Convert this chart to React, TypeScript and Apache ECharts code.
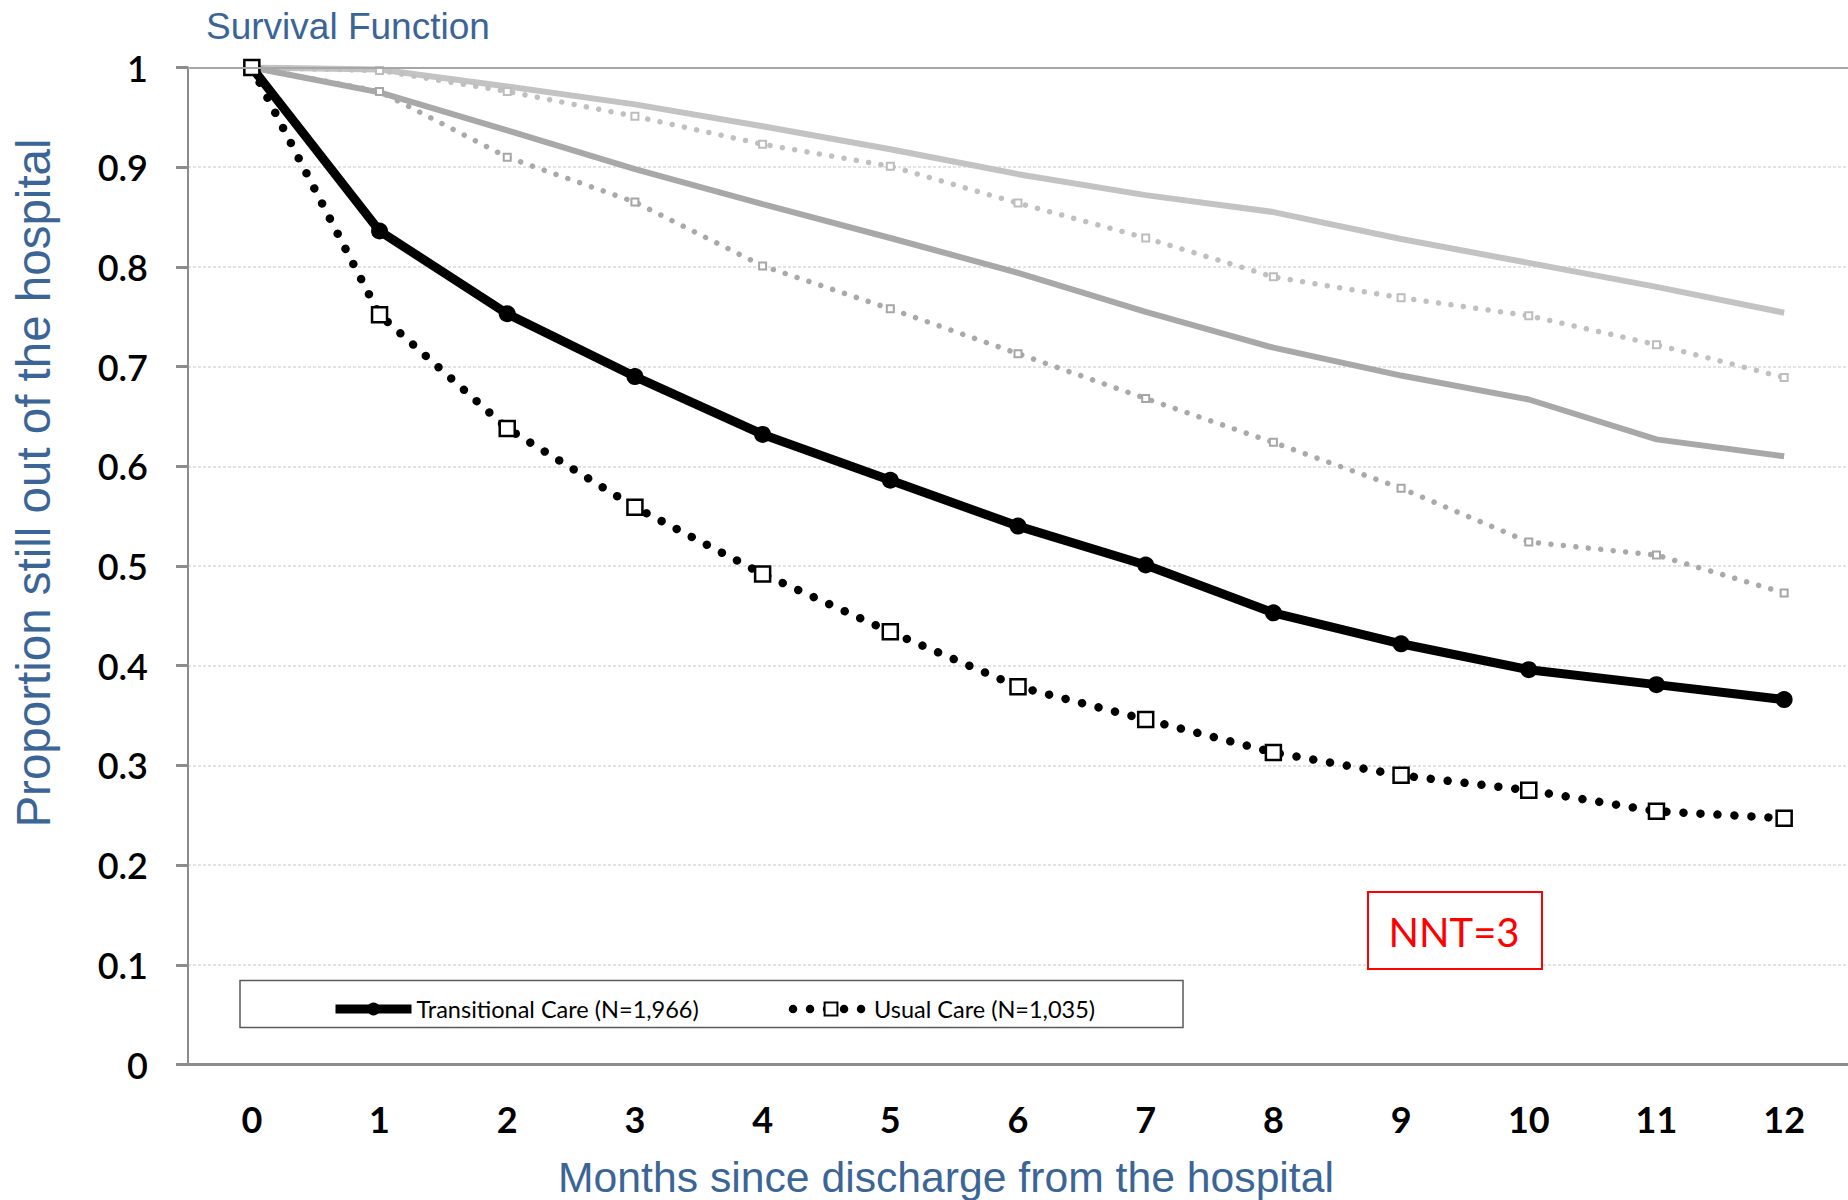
import React, { useEffect, useRef } from "react";
import * as echarts from "echarts";

const months = ["0", "1", "2", "3", "4", "5", "6", "7", "8", "9", "10", "11", "12"];
const transitionalCare = [1.0, 0.836, 0.753, 0.69, 0.632, 0.586, 0.54, 0.501, 0.453, 0.422, 0.396, 0.381, 0.366];
const usualCare = [1.0, 0.752, 0.638, 0.559, 0.492, 0.434, 0.379, 0.346, 0.313, 0.29, 0.275, 0.254, 0.247];
const greyLightSolid = [1.0, 0.998, 0.981, 0.963, 0.941, 0.918, 0.893, 0.872, 0.855, 0.828, 0.804, 0.78, 0.754];
const greyLightDotted = [1.0, 0.997, 0.976, 0.951, 0.923, 0.901, 0.864, 0.829, 0.79, 0.769, 0.751, 0.722, 0.689];
const greyMidSolid = [1.0, 0.975, 0.937, 0.898, 0.863, 0.829, 0.794, 0.755, 0.719, 0.691, 0.667, 0.627, 0.61];
const greyMidDotted = [1.0, 0.976, 0.91, 0.865, 0.801, 0.758, 0.713, 0.668, 0.624, 0.578, 0.524, 0.511, 0.473];

const titleText = "Survival Function";
const xAxisTitle = "Months since discharge from the hospital";
const yAxisTitle = "Proportion still out of the hospital";
const legendNames = ["Transitional Care (N=1,966)", "Usual Care (N=1,035)"];
const nntText = "NNT=3";

const BLUE = "#3b6597";
const AXIS = "#8c8c8c";

export default function App() {
  const ref = useRef<HTMLDivElement>(null);
  useEffect(() => {
    if (!ref.current) return;
    const chart = echarts.init(ref.current, null, { renderer: "svg" });
    const option: any = {
      animation: false,
      backgroundColor: "#ffffff",
      title: {
        text: titleText,
        left: 201,
        top: 3,
        textStyle: { color: BLUE, fontFamily: "Liberation Sans", fontSize: 37, fontWeight: "normal" },
      },
      grid: { left: 188, top: 67.5, width: 1665, height: 997 },
      legend: {
        data: legendNames,
        left: 326,
        top: 991,
        itemWidth: 76,
        itemHeight: 16,
        itemGap: 90,
        lineStyle: { width: "inherit" },
        textStyle: { fontFamily: "Lato", fontSize: 23.5, color: "#000", lineHeight: 26 },
      },
      xAxis: {
        type: "category",
        data: months,
        boundaryGap: true,
        axisLine: { lineStyle: { color: AXIS, width: 3 } },
        axisTick: { interval: 0, length: 13, lineStyle: { color: AXIS, width: 1.5 } },
        axisLabel: { interval: 0, margin: 36, fontFamily: "Lato", fontSize: 36, fontWeight: "bold", color: "#000" },
        splitLine: { show: false },
      },
      yAxis: {
        type: "value",
        min: 0,
        max: 1,
        interval: 0.1,
        axisLine: { show: true, lineStyle: { color: AXIS, width: 2 } },
        axisTick: { show: true, length: 12, lineStyle: { color: AXIS, width: 3 } },
        axisLabel: { margin: 40, fontFamily: "Lato", fontSize: 36, fontWeight: 600, color: "#000" },
        splitLine: { show: true, lineStyle: { color: "#d9d9d9", width: 1.5, type: [3, 2] } },
      },
      graphic: [
        {
          type: "text",
          x: 33,
          y: 483,
          rotation: Math.PI / 2,
          style: {
            text: yAxisTitle,
            fill: BLUE,
            fontFamily: "Liberation Sans",
            fontSize: 47.5,
            textAlign: "center",
            textVerticalAlign: "middle",
          },
        },
        {
          type: "text",
          x: 946,
          y: 1177,
          style: {
            text: xAxisTitle,
            fill: BLUE,
            fontFamily: "Liberation Sans",
            fontSize: 42.7,
            textAlign: "center",
            textVerticalAlign: "middle",
          },
        },
        {
          type: "rect",
          z: 1,
          shape: { x: 240, y: 980.5, width: 943, height: 47 },
          style: { fill: "#ffffff", stroke: "#595959", lineWidth: 1.5 },
        },
        {
          type: "rect",
          z: 1,
          shape: { x: 1368, y: 892, width: 174, height: 77 },
          style: { fill: "#ffffff", stroke: "#ff0000", lineWidth: 2 },
        },
        {
          type: "text",
          z: 2,
          x: 1454,
          y: 932,
          style: {
            text: nntText,
            fill: "#ff0000",
            fontFamily: "Lato",
            fontSize: 40,
            textAlign: "center",
            textVerticalAlign: "middle",
          },
        },
      ],
      series: [
        {
          name: "grey-light-solid",
          type: "line",
          data: greyLightSolid,
          symbol: "none",
          lineStyle: { color: "#c3c3c3", width: 6 },
          z: 2,
          markLine: {
            silent: true,
            symbol: "none",
            label: { show: false },
            lineStyle: { color: "#a6a6a6", width: 2, type: "solid" },
            data: [{ yAxis: 1 }],
          },
        },
        {
          name: "grey-light-dotted",
          type: "line",
          data: greyLightDotted,
          symbol: "rect",
          symbolSize: 7,
          itemStyle: { color: "#ffffff", borderColor: "#bdbdbd", borderWidth: 2 },
          lineStyle: { color: "#c0c0c0", width: 5.5, type: [0.01, 12.5], cap: "round" },
          z: 2,
        },
        {
          name: "grey-mid-solid",
          type: "line",
          data: greyMidSolid,
          symbol: "none",
          lineStyle: { color: "#a8a8a8", width: 6 },
          z: 2,
        },
        {
          name: "grey-mid-dotted",
          type: "line",
          data: greyMidDotted,
          symbol: "rect",
          symbolSize: 7,
          itemStyle: { color: "#ffffff", borderColor: "#a6a6a6", borderWidth: 2 },
          lineStyle: { color: "#a9a9a9", width: 5.5, type: [0.01, 12.5], cap: "round" },
          z: 2,
        },
        {
          name: legendNames[0],
          type: "line",
          data: transitionalCare,
          symbol: "circle",
          symbolSize: 17,
          itemStyle: { color: "#000000" },
          lineStyle: { color: "#000000", width: 9 },
          z: 3,
        },
        {
          name: legendNames[1],
          type: "line",
          data: usualCare,
          symbol: "rect",
          symbolSize: 15,
          itemStyle: { color: "#ffffff", borderColor: "#000000", borderWidth: 2.5 },
          lineStyle: { color: "#000000", width: 8.5, type: [0.01, 17], cap: "round" },
          z: 4,
        },
      ],
    };
    chart.setOption(option);
    return () => chart.dispose();
  }, []);
  return (
    <div
      ref={ref}
      style={{ position: "fixed", left: 0, top: 0, width: 1848, height: 1200, background: "#fff" }}
    />
  );
}
